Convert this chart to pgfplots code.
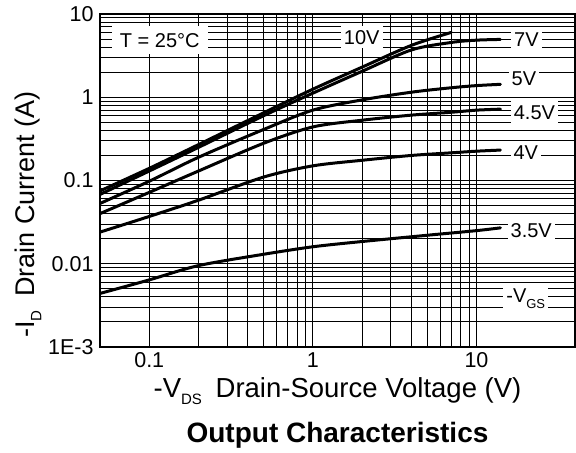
\documentclass[border=0pt]{standalone}
\usepackage{fontspec}
\setmainfont{Liberation Sans}
\usepackage{pgfplots}
\pgfplotsset{compat=1.18}

\begin{document}
\begin{tikzpicture}
\begin{axis}[
  name=main,
  scale only axis,
  width=475pt, height=333pt,
  xmode=log, ymode=log,
  xmin=0.05, xmax=40, ymin=0.001, ymax=10,
  xtick={0.1,1,10}, xticklabels={0.1,1,10},
  ytick={0.001,0.01,0.1,1,10}, yticklabels={1E-3,0.01,0.1,1,10},
  grid=both,
  major grid style={black, line width=1pt},
  minor grid style={black, line width=1pt},
  axis line style={line width=1.6pt},
  major tick length=0pt, minor tick length=0pt,
  ticklabel style={font=\fontsize{21.5}{24}\selectfont},
  xticklabel style={yshift=-2pt},
  yticklabel style={xshift=-3pt},
  crv/.style={black, line width=3pt, smooth, line cap=round},
]
% 10V
\addplot[crv] coordinates {(0.05,0.075)(0.1,0.14)(0.2,0.27)(0.5,0.65)(1,1.25)(2,2.3)(4,4.2)(7,6.0)};
% 7V
\addplot[crv] coordinates {(0.05,0.068)(0.1,0.13)(0.2,0.25)(0.5,0.6)(1,1.12)(2,2.05)(4,3.7)(7,4.55)(10,4.85)(14,4.95)};
% 5V
\addplot[crv] coordinates {(0.05,0.053)(0.1,0.098)(0.2,0.19)(0.5,0.41)(1,0.7)(2,0.93)(4,1.15)(7,1.3)(10,1.38)(14,1.43)};
% 4.5V
\addplot[crv] coordinates {(0.05,0.04)(0.1,0.072)(0.2,0.13)(0.5,0.28)(1,0.44)(2,0.53)(4,0.61)(7,0.66)(10,0.7)(14,0.72)};
% 4V
\addplot[crv] coordinates {(0.05,0.024)(0.1,0.037)(0.2,0.058)(0.5,0.11)(1,0.15)(2,0.175)(4,0.2)(7,0.215)(10,0.225)(14,0.232)};
% 3.5V
\addplot[crv] coordinates {(0.05,0.0044)(0.1,0.0064)(0.2,0.0095)(0.5,0.013)(1,0.016)(2,0.0185)(5,0.022)(10,0.025)(14,0.027)};

\tikzset{lbl/.style={fill=white, inner xsep=3pt, inner ysep=4pt, font=\fontsize{20}{23}\selectfont}}
\node[lbl, inner xsep=8pt, inner ysep=7pt] at (axis cs:0.116,4.84) {T = 25°C};
\node[lbl] at (axis cs:1.99,5.25) {10V};
\node[lbl] at (axis cs:20.2,4.97) {7V};
\node[lbl] at (axis cs:19.5,1.65) {5V};
\node[lbl] at (axis cs:22.6,0.66) {4.5V};
\node[lbl] at (axis cs:20,0.218) {4V};
\node[lbl] at (axis cs:21.6,0.025) {3.5V};
\node[lbl] at (axis cs:20,0.0038) {-V\raisebox{-6pt}{\fontsize{13}{13}\selectfont GS}};
\end{axis}
\node[rotate=90, font=\fontsize{27}{30}\selectfont] at ([xshift=-72pt,yshift=-34pt]main.west)
  {-I\raisebox{-7pt}{\fontsize{15}{15}\selectfont D}\enspace Drain Current (A)};
\node[font=\fontsize{27.5}{30}\selectfont] at ([yshift=-44pt]main.south)
  {-V\raisebox{-7pt}{\fontsize{15}{15}\selectfont DS}\enspace Drain-Source Voltage (V)};
\node[font=\fontsize{28}{31}\selectfont\bfseries] at ([yshift=-88pt]main.south)
  {Output Characteristics};
\pgfresetboundingbox
\path ([xshift=-100pt,yshift=-105pt]main.south west) rectangle ([xshift=1pt,yshift=14pt]main.north east);
\end{tikzpicture}
\end{document}
